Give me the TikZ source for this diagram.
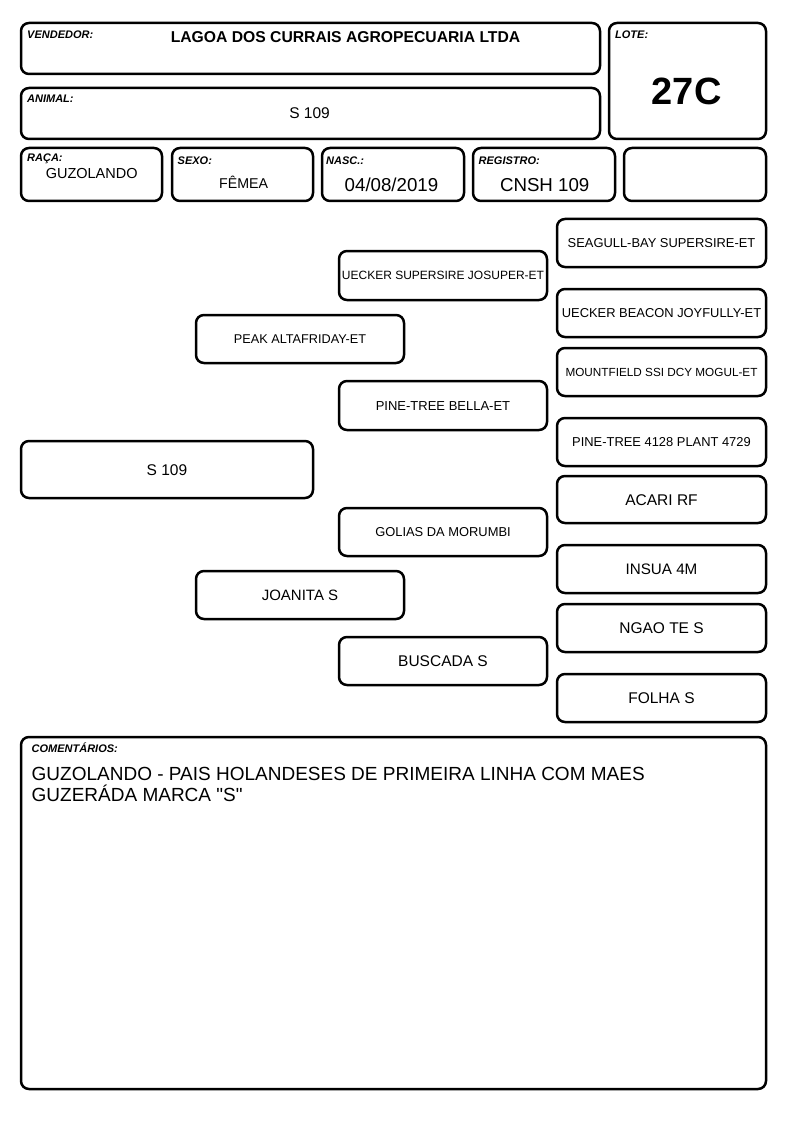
\documentclass[tikz,border=0pt]{standalone}
\usepackage{fontspec}
\setmainfont{Liberation Sans}
\usetikzlibrary{positioning}
\tikzset{
  cell/.style={draw, line width=2.5pt, rounded corners=8pt, inner sep=0pt, outer sep=0pt},
  tag/.style={anchor=base west, inner sep=0pt, font=\fontsize{11}{13}\selectfont\bfseries\itshape},
  entry/.style={anchor=base, inner sep=0pt},
  kin/.style={cell, minimum width=208pt, minimum height=48pt,
    font=\fontsize{#1}{#1}\selectfont, text height=0.72*#1pt, text depth=0pt}
}
\begin{document}
\begin{tikzpicture}[x=1pt, y=-1pt]
\useasboundingbox (0,0) rectangle (794,1123);
\fill[white] (0,0) rectangle (794,1123);

% header
\node[cell, minimum width=579pt, minimum height=51pt] (vend) at (310.5,48.5) {};
\node[cell, minimum width=157pt, minimum height=116pt] (lote) at (687.5,81) {};
\node[cell, minimum width=579pt, minimum height=51pt] (animal) at (310.5,113.5) {};
\node[cell, minimum width=141pt, minimum height=53pt] (raca) at (91.5,174.5) {};
\node[cell, minimum width=141pt, minimum height=53pt] (sexo) at (242.5,174.5) {};
\node[cell, minimum width=142pt, minimum height=53pt] (nasc) at (393,174.5) {};
\node[cell, minimum width=142pt, minimum height=53pt] (reg) at (544,174.5) {};
\node[cell, minimum width=142pt, minimum height=53pt] (blank) at (695,174.5) {};

\node[tag] (vendtag) at (27,39) {VENDEDOR:};
\node[tag] (lotetag) at (615,39) {LOTE:};
\node[tag] (animaltag) at (27,103) {ANIMAL:};
\node[tag] (racatag) at (27,162) {RAÇA:};
\node[tag] (sexotag) at (177.5,165) {SEXO:};
\node[tag] (nasctag) at (326,165) {NASC.:};
\node[tag] (regtag) at (478.5,165) {REGISTRO:};

\node[entry, font=\fontsize{15.7}{18}\selectfont\bfseries] (vendname) at (345.5,42.7) {LAGOA DOS CURRAIS AGROPECUARIA LTDA};
\node[entry, font=\fontsize{38}{44}\selectfont\bfseries] (lotenum) at (686.7,105) {27C};
\node[entry, font=\fontsize{15.5}{18}\selectfont] (animalname) at (309.5,119) {S 109};
\node[entry, font=\fontsize{14.5}{17}\selectfont] (racaname) at (91.7,178.3) {GUZOLANDO};
\node[entry, font=\fontsize{14.2}{17}\selectfont] (sexoname) at (243.7,189) {FÊMEA};
\node[entry, font=\fontsize{18.7}{22}\selectfont] (nascdate) at (391.5,191.7) {04/08/2019};
\node[entry, font=\fontsize{18.7}{22}\selectfont] (regnum) at (544.7,191.7) {CNSH 109};

% pedigree
\node[kin=15.5, minimum width=292pt, minimum height=57pt] (self) at (167,469.5) {S 109};

\node[kin=12.7] (sire) at (300,339) {PEAK ALTAFRIDAY-ET};
\node[kin=15] (dam) at (300,595) {JOANITA S};

\node[kin=12, minimum height=49pt] (ss) at (443,275.5) {UECKER SUPERSIRE JOSUPER-ET};
\node[kin=13, minimum height=49pt] (sd) at (443,405.5) {PINE-TREE BELLA-ET};
\node[kin=12.9] (ds) at (443,532) {GOLIAS DA MORUMBI};
\node[kin=15.5] (dd) at (443,661) {BUSCADA S};

\node[kin=12.9, minimum width=209pt] (sss) at (661.5,243) {SEAGULL-BAY SUPERSIRE-ET};
\node[kin=12.9, minimum width=209pt] (ssd) at (661.5,313) {UECKER BEACON JOYFULLY-ET};
\node[kin=11.75, minimum width=209pt] (sds) at (661.5,372) {MOUNTFIELD SSI DCY MOGUL-ET};
\node[kin=12.9, minimum width=209pt] (sdd) at (661.5,442) {PINE-TREE 4128 PLANT 4729};
\node[kin=15.5, minimum width=209pt, minimum height=47pt] (dss) at (661.5,499.5) {ACARI RF};
\node[kin=15.2, minimum width=209pt] (dsd) at (661.5,569) {INSUA 4M};
\node[kin=15.5, minimum width=209pt] (dds) at (661.5,628) {NGAO TE S};
\node[kin=15.5, minimum width=209pt] (ddd) at (661.5,698) {FOLHA S};

% comments
\node[cell, minimum width=745pt, minimum height=352pt] (notes) at (393.5,913) {};
\node[tag] (notestag) at (31.5,752.7) {COMENTÁRIOS:};
\node[entry, anchor=base west, align=left, font=\fontsize{19}{20.3}\selectfont] (notestext) at (31.5,801)
  {GUZOLANDO - PAIS HOLANDESES DE PRIMEIRA LINHA COM MAES\\GUZERÁDA MARCA \textquotedbl S\textquotedbl};
\end{tikzpicture}
\end{document}
